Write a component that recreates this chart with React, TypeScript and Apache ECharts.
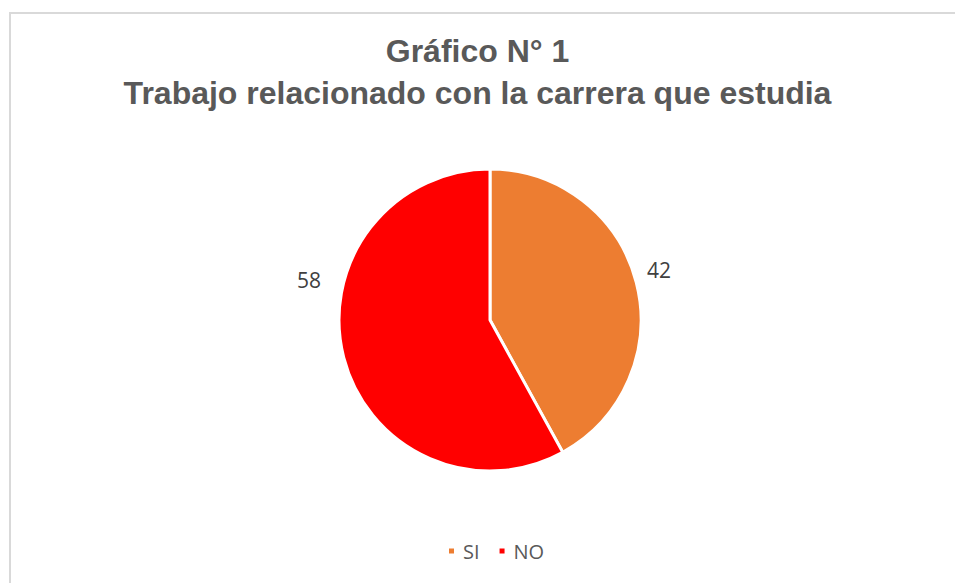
import React, { useEffect, useRef } from "react";
import * as echarts from "echarts";

const titleLines = ["Gráfico N° 1", "Trabajo relacionado con la carrera que estudia"];
const categories = ["SI", "NO"];
const values = [42, 58];
const colors = ["#ED7D31", "#FF0000"];

export default function App() {
  const ref = useRef<HTMLDivElement>(null);
  useEffect(() => {
    document.body.style.margin = "0";
    const chart = echarts.init(ref.current!, undefined, { renderer: "svg" });
    chart.setOption({
      animation: false,
      backgroundColor: "#ffffff",
      title: {
        text: titleLines.join("\n"),
        left: "center",
        top: 25,
        textStyle: {
          fontFamily: "Liberation Sans, Arial, sans-serif",
          fontWeight: "bold",
          fontSize: 32,
          lineHeight: 42,
          color: "#595959",
        },
      },
      legend: {
        top: 536,
        left: 442,
        itemWidth: 7,
        itemHeight: 7,
        itemGap: 18,
        icon: "rect",
        textStyle: {
          fontFamily: "Open Sans, Noto Sans, sans-serif",
          fontSize: 20,
          color: "#595959",
          padding: [0, 0, 0, 3],
        },
        data: categories,
      },
      graphic: [
        {
          type: "rect",
          shape: { x: 10, y: 13, width: 1000, height: 700 },
          style: { fill: "none", stroke: "#d9d9d9", lineWidth: 2 },
          silent: true,
        },
      ],
      series: [
        {
          type: "pie",
          center: [490, 320],
          radius: [0, 151],
          startAngle: 90,
          clockwise: true,
          color: colors,
          itemStyle: { borderColor: "#ffffff", borderWidth: 3 },
          label: {
            show: true,
            position: "outside",
            formatter: "{c}",
            fontFamily: "Open Sans, Noto Sans, sans-serif",
            fontSize: 21,
            color: "#404040",
          },
          labelLine: { show: false, length: 10, length2: 4 },
          labelLayout: (p: any) => (p.dataIndex === 1 ? { dy: -80, dx: -4 } : { dy: -10, dx: -8 }),
          data: categories.map((c, i) => ({ name: c, value: values[i] })),
        },
      ],
    });
    return () => chart.dispose();
  }, []);
  return <div ref={ref} style={{ width: 955, height: 583 }} />;
}
